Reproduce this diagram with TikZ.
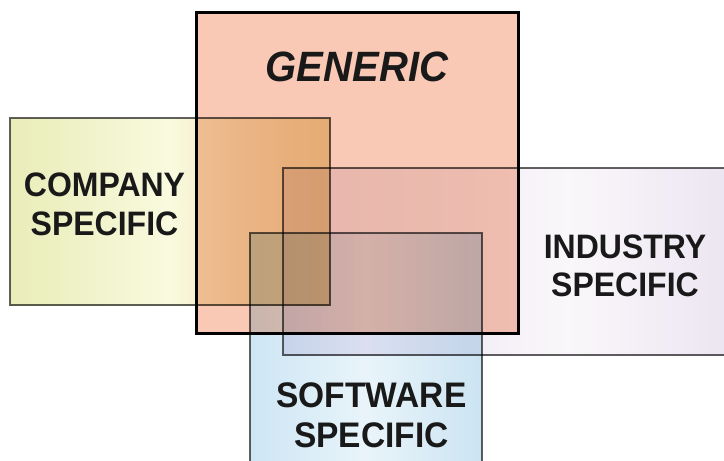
\documentclass[tikz,border=0pt]{standalone}
\usepackage{fontspec}
\setmainfont{Liberation Sans}
\definecolor{genfill}{HTML}{F9C9B5}
\definecolor{cA}{HTML}{DFE39A}
\definecolor{cB}{HTML}{EDF0C2}
\definecolor{cC}{HTML}{F9FADF}
\definecolor{cD}{HTML}{F2EBC4}
\definecolor{cE}{HTML}{EEDFAE}
\definecolor{cF}{HTML}{E0CA8C}
\definecolor{iA}{HTML}{E8E0F0}
\definecolor{iB}{HTML}{F2EDF6}
\definecolor{iC}{HTML}{FAF7FA}
\definecolor{iD}{HTML}{D8CDE6}
\definecolor{sA}{HTML}{B0D8EE}
\definecolor{sB}{HTML}{E9F4FA}
\definecolor{sC}{HTML}{AED4EA}
\pgfdeclarehorizontalshading{compshade}{100bp}{
  color(0bp)=(cA); color(32bp)=(cB); color(50bp)=(cC); color(58bp)=(cD); color(68bp)=(cE); color(100bp)=(cF)}
\pgfdeclarehorizontalshading{indshade}{100bp}{
  color(0bp)=(iA); color(45bp)=(iB); color(57bp)=(iC); color(100bp)=(iD)}
\pgfdeclarehorizontalshading{softshade}{100bp}{
  color(0bp)=(sA); color(50bp)=(sB); color(100bp)=(sC)}
\tikzset{
  boxline/.style={draw=black!62, line width=1.6pt},
  lbl/.style={anchor=base, yscale=1.06, text=black!90, inner sep=0pt},
}
\begin{document}
\begin{tikzpicture}[x=1pt,y=-1pt]
\useasboundingbox (0,0) rectangle (724,461);
\clip (0,0) rectangle (724,461);
% generic background
\fill[genfill] (195,11) rectangle (517,332);
\begin{scope}[blend mode=multiply]
  \shade[shading=compshade] (10,118) rectangle (330,305);
  \shade[shading=indshade] (283,168) rectangle (728,355);
  \shade[shading=softshade] (250,233) rectangle (482,470);
  \draw[boxline] (10,118) rectangle (330,305);
  \draw[boxline] (283,168) rectangle (728,355);
  \draw[boxline] (250,233) rectangle (482,470);
\end{scope}
\node[draw=black, line width=3pt, minimum width=322pt, minimum height=321pt, anchor=north west] (generic) at (195,11) {};
\node[lbl, font=\bfseries\itshape\fontsize{40}{44}\selectfont] (gentxt) at (357,81.5) {GENERIC};
\node[lbl, font=\bfseries\fontsize{32}{38}\selectfont] (comp1) at (104.5,196.5) {COMPANY};
\node[lbl, font=\bfseries\fontsize{32}{38}\selectfont] (comp2) at (104.5,235.5) {SPECIFIC};
\node[lbl, font=\bfseries\fontsize{32}{38}\selectfont] (ind1) at (625,258.5) {INDUSTRY};
\node[lbl, font=\bfseries\fontsize{32}{38}\selectfont] (ind2) at (625,296) {SPECIFIC};
\node[lbl, font=\bfseries\fontsize{33.5}{38}\selectfont] (soft1) at (371.5,407.5) {SOFTWARE};
\node[lbl, font=\bfseries\fontsize{33.5}{38}\selectfont] (soft2) at (371.5,447.5) {SPECIFIC};
\end{tikzpicture}
\end{document}
